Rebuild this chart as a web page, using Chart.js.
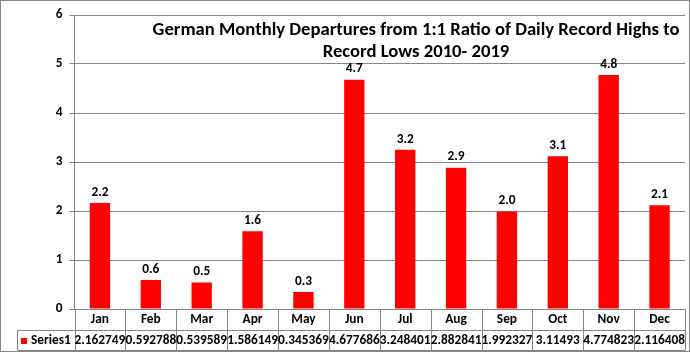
<!DOCTYPE html>
<html>
<head>
<meta charset="utf-8">
<script src="https://cdn.jsdelivr.net/npm/chart.js@4"></script>
<style>
  html, body { margin: 0; padding: 0; background: #fff; }
  #wrap { width: 690px; height: 352px; position: relative; }
</style>
</head>
<body>
<div id="wrap"><canvas id="ratioChart" width="690" height="352"></canvas></div>
<script>
const months = ["Jan", "Feb", "Mar", "Apr", "May", "Jun", "Jul", "Aug", "Sep", "Oct", "Nov", "Dec"];
const series1 = [2.162749, 0.592788, 0.539589, 1.586149, 0.345369, 4.677686,
                 3.248401, 2.882841, 1.992327, 3.11493, 4.774823, 2.116408];
const tableText = ["2.162749", "0.592788", "0.539589", "1.586149", "0.345369", "4.677686",
                   "3.248401", "2.882841", "1.992327", "3.11493", "4.774823", "2.116408"];
const yTicks = [0, 1, 2, 3, 4, 5, 6];

const FONT = "Calibri, Carlito, Lato, sans-serif";
const gridColor = "#868686";

// data labels above bars
const barLabels = {
  id: "barLabels",
  afterDatasetsDraw(chart) {
    const ctx = chart.ctx;
    const meta = chart.getDatasetMeta(0);
    ctx.save();
    ctx.font = "bold 13.33px " + FONT;
    ctx.fillStyle = "#000";
    ctx.textAlign = "center";
    ctx.textBaseline = "bottom";
    meta.data.forEach((bar, i) => {
      ctx.fillText(series1[i].toFixed(1), bar.x, bar.y - 4);
    });
    ctx.restore();
  },
};

// data table under the plot + outer frame
const dataTable = {
  id: "dataTable",
  afterDraw(chart) {
    const ctx = chart.ctx;
    const area = chart.chartArea;
    const x = chart.scales.x;
    const top = area.bottom;
    const mid = top + 21;
    const bot = 350.5;
    const left = area.left;
    const right = area.right;
    const legendLeft = 17.5;
    const step = (right - left) / months.length;

    ctx.save();
    ctx.strokeStyle = gridColor;
    ctx.lineWidth = 1;
    ctx.beginPath();
    ctx.moveTo(legendLeft, mid + 0.5); ctx.lineTo(right, mid + 0.5);
    ctx.moveTo(legendLeft, bot); ctx.lineTo(right, bot);
    ctx.moveTo(legendLeft, mid + 0.5); ctx.lineTo(legendLeft, bot);
    for (let i = 0; i <= months.length; i++) {
      const cx = Math.round(left + step * i) + 0.5;
      ctx.moveTo(cx, top); ctx.lineTo(cx, bot);
    }
    ctx.stroke();

    ctx.fillStyle = "#000";
    ctx.font = "bold 13.33px " + FONT;
    ctx.textAlign = "center";
    ctx.textBaseline = "middle";
    months.forEach((m, i) => {
      const cx = x.getPixelForValue(i);
      ctx.fillText(m, cx, top + 11);
      ctx.fillText(tableText[i], cx, mid + 10.5);
    });

    // legend key
    ctx.fillStyle = "#ff0000";
    ctx.fillRect(21, 338, 6, 6);
    ctx.fillStyle = "#000";
    ctx.textAlign = "left";
    ctx.fillText("Series1", 31, mid + 10.5);

    // outer frame
    ctx.strokeStyle = gridColor;
    ctx.strokeRect(0.5, 0.5, chart.width - 1, chart.height - 1);
    ctx.restore();
  },
};

const ctx = document.getElementById("ratioChart").getContext("2d");

window.ratioChart = new Chart(ctx, {
  type: "bar",
  data: {
    labels: months,
    datasets: [
      {
        label: "Series1",
        data: series1,
        backgroundColor: "#ff0000",
        borderWidth: 0,
        categoryPercentage: 1.0,
        barPercentage: 0.4,
      },
    ],
  },
  options: {
    responsive: false,
    animation: false,
    layout: {
      padding: { left: 0, right: 5, top: 15, bottom: 43 },
    },
    scales: {
      x: {
        display: false,
      },
      y: {
        min: 0,
        max: 6,
        afterBuildTicks: (scale) => {
          scale.ticks = yTicks.map((v) => ({ value: v }));
        },
        afterFit: (scale) => {
          scale.width = 74.5;
        },
        grid: {
          color: gridColor,
          tickLength: 5,
          tickColor: gridColor,
        },
        border: {
          display: true,
          color: gridColor,
        },
        ticks: {
          color: "#000",
          padding: 7,
          font: { family: FONT, size: 13.33, weight: "bold" },
        },
      },
    },
    plugins: {
      legend: { display: false },
      tooltip: { enabled: false },
      title: { display: false },
    },
  },
  plugins: [barLabels, dataTable, {
    id: "overlayTitle",
    afterDraw(chart) {
      const c = chart.ctx;
      c.save();
      c.fillStyle = "#000";
      c.font = "bold 18.67px " + FONT;
      c.textAlign = "center";
      c.textBaseline = "middle";
      c.fillText("German Monthly Departures from 1:1 Ratio of Daily Record Highs to", 416, 30);
      c.fillText("Record Lows 2010- 2019", 416, 52);
      c.restore();
    },
  }],
});
</script>
</body>
</html>
